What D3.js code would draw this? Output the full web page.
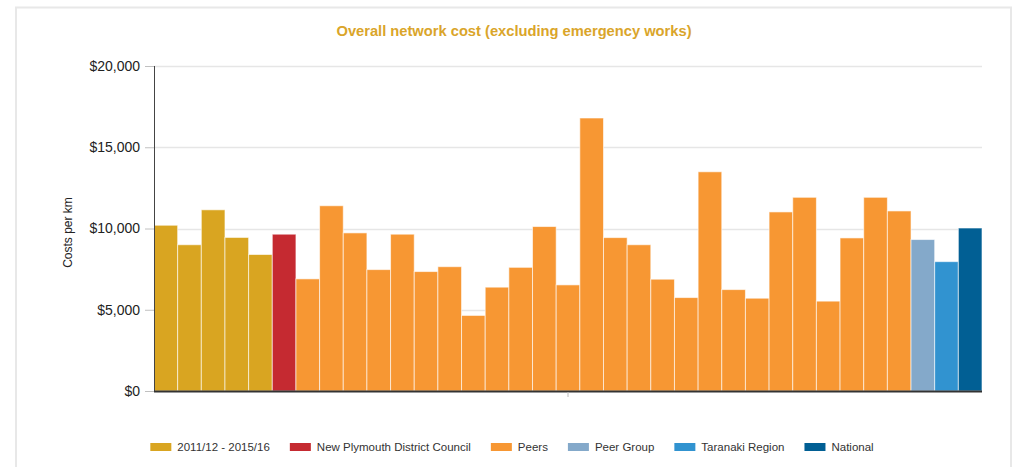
<!DOCTYPE html>
<html>
<head>
<meta charset="utf-8">
<script src="https://cdn.jsdelivr.net/npm/d3@7"></script>
<style>
  body { margin: 0; background: #fff; }
  svg { display: block; font-family: "Liberation Sans", Arial, sans-serif; }
</style>
</head>
<body>
<svg width="1018" height="467"></svg>
<script>
// values (cost per km, $)
var yearLabels = ["2011/12", "2012/13", "2013/14", "2014/15", "2015/16"];
var yearValues = [10200, 9000, 11150, 9450, 8400];
var councilLabel = "New Plymouth District Council";
var councilValue = 9650;
var peerValues = [6900, 11400, 9730, 7470, 9650, 7350, 7650, 4650, 6390, 7610, 10120, 6530, 16800,
                  9440, 9000, 6880, 5750, 13490, 6240, 5710, 11020, 11920, 5530, 9420, 11920, 11080];
var peerGroupValue = 9320;
var regionValue = 7960;
var nationalValue = 10030;
var yTicks = [0, 5000, 10000, 15000, 20000];

var seriesNames = ["2011/12 - 2015/16", "New Plymouth District Council", "Peers", "Peer Group", "Taranaki Region", "National"];
var seriesColors = ["#d9a521", "#c52a31", "#f79733", "#84a9ca", "#3193d0", "#015f94"];

window.onload = function() {
  var svg = d3.select("svg");
  var margin = {top: 66, right: 36, bottom: 76, left: 154};
  var width = 1018 - margin.left - margin.right;
  var height = 467 - margin.top - margin.bottom;

  // build the bar list from the arrays
  var data = [];
  yearLabels.forEach(function(d, i) { data.push({name: d, value: yearValues[i], series: seriesNames[0]}); });
  data.push({name: councilLabel, value: councilValue, series: seriesNames[1]});
  peerValues.forEach(function(v, i) { data.push({name: "Peer " + (i + 1), value: v, series: seriesNames[2]}); });
  data.push({name: "Peer Group", value: peerGroupValue, series: seriesNames[3]});
  data.push({name: "Taranaki Region", value: regionValue, series: seriesNames[4]});
  data.push({name: "National", value: nationalValue, series: seriesNames[5]});

  var color = d3.scaleOrdinal().domain(seriesNames).range(seriesColors);

  // outer frame
  svg.append("rect")
    .attr("x", 16).attr("y", 7.5)
    .attr("width", 995).attr("height", 480)
    .attr("fill", "none")
    .attr("stroke", "#e8e8e8")
    .attr("stroke-width", 2);

  svg.append("text")
    .attr("x", 514)
    .attr("y", 36)
    .attr("text-anchor", "middle")
    .attr("fill", "#daa52a")
    .attr("font-size", 14.7)
    .attr("font-weight", "bold")
    .text("Overall network cost (excluding emergency works)");

  var g = svg.append("g").attr("transform", "translate(" + margin.left + "," + margin.top + ")");

  var x = d3.scaleBand()
    .domain(data.map(function(d) { return d.name; }))
    .range([0, width])
    .padding(0);

  var y = d3.scaleLinear()
    .domain([0, 20000])
    .range([height, 0]);

  // gridlines
  g.append("g")
    .selectAll("line")
    .data(yTicks.slice(1))
    .enter().append("line")
      .attr("x1", 0)
      .attr("x2", width)
      .attr("y1", function(d) { return Math.round(y(d)) + 0.5; })
      .attr("y2", function(d) { return Math.round(y(d)) + 0.5; })
      .attr("stroke", "#e6e6e6")
      .attr("stroke-width", 1.5);

  g.append("g")
    .selectAll("rect")
    .data(data)
    .enter().append("rect")
      .attr("x", function(d) { return x(d.name); })
      .attr("y", function(d) { return y(d.value); })
      .attr("width", x.bandwidth())
      .attr("height", function(d) { return height - y(d.value); })
      .attr("fill", function(d) { return color(d.series); })
      .attr("stroke", "#fff")
      .attr("stroke-opacity", 0.6)
      .attr("stroke-width", 1);

  // y axis
  var yAxis = g.append("g")
    .call(d3.axisLeft(y).tickValues(yTicks).tickSize(9).tickPadding(5)
      .tickFormat(function(d) { return "$" + d3.format(",")(d); }));
  yAxis.select(".domain").attr("stroke", "#444").attr("d", "M0.5,0V" + height);
  yAxis.selectAll(".tick line").attr("stroke", "#c0c0c0");
  yAxis.selectAll(".tick text").attr("fill", "#222").attr("font-size", 14).attr("font-family", null);
  yAxis.attr("font-family", null);

  // x axis: baseline with a single centre tick
  g.append("line")
    .attr("x1", 0).attr("x2", width)
    .attr("y1", height + 0.5).attr("y2", height + 0.5)
    .attr("stroke", "#333")
    .attr("stroke-width", 2);
  g.append("line")
    .attr("x1", width / 2).attr("x2", width / 2)
    .attr("y1", height + 1).attr("y2", height + 6)
    .attr("stroke", "#bbb");

  svg.append("text")
    .attr("transform", "translate(72," + (margin.top + height / 2 + 4) + ") rotate(-90)")
    .attr("text-anchor", "middle")
    .attr("fill", "#222")
    .attr("font-size", 12)
    .text("Costs per km");

  // legend
  var legend = svg.append("g").attr("transform", "translate(0,451)");
  var lx = 0;
  seriesNames.forEach(function(name, i) {
    var item = legend.append("g").attr("transform", "translate(" + lx + ",0)");
    item.append("rect")
      .attr("x", 0).attr("y", -8)
      .attr("width", 21).attr("height", 8)
      .attr("fill", seriesColors[i]);
    var t = item.append("text")
      .attr("x", 27)
      .attr("y", 0)
      .attr("fill", "#333")
      .attr("font-size", 11.5)
      .text(name);
    lx += 27 + t.node().getComputedTextLength() + 20;
  });
  var legendWidth = lx - 20;
  legend.attr("transform", "translate(" + (150 + (724 - legendWidth) / 2) + ",451)");
};
</script>
</body>
</html>
